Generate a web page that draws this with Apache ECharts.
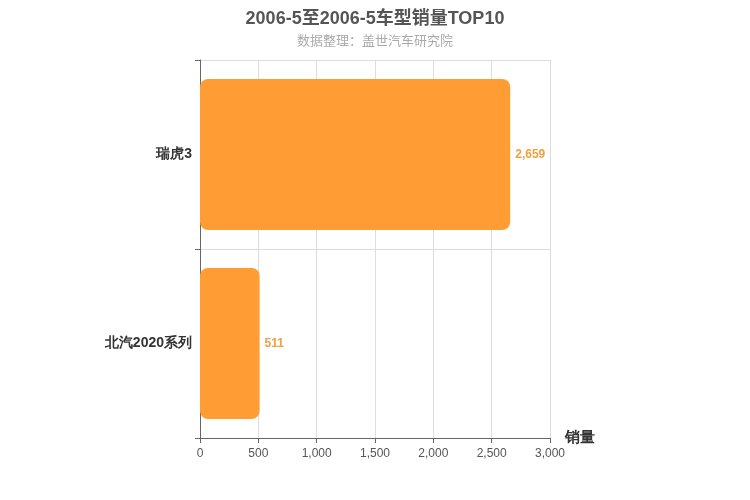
<!DOCTYPE html>
<html><head><meta charset="utf-8">
<script src="https://cdn.jsdelivr.net/npm/echarts@6/dist/echarts.min.js"></script>
<style>html,body{margin:0;padding:0;background:#fff}#c{width:750px;height:500px}</style>
</head><body><div id="c"></div>
<script>
const categories = ['北汽2020系列', '瑞虎3'];
const sales = [511, 2659];
const xTicks = [0, 500, 1000, 1500, 2000, 2500, 3000];
const titleText = '2006-5至2006-5车型销量TOP10';
const subText = '数据整理：盖世汽车研究院';

const chart = echarts.init(document.getElementById('c'));
chart.setOption({
  animation: false,
  title: {
    text: titleText, subtext: subText, left: 'center', top: 5,
    textStyle: { fontSize: 18, fontWeight: 'bold', color: '#555', fontFamily: 'Arial, "Noto Sans CJK SC", sans-serif' },
    subtextStyle: { fontSize: 13, color: '#aaa', fontFamily: '"Noto Sans CJK SC", sans-serif' },
    itemGap: 6
  },
  grid: { left: 200, right: 200, top: 60, bottom: 62 },
  xAxis: {
    type: 'value', min: xTicks[0], max: xTicks[xTicks.length - 1], interval: 500,
    name: '销量', nameLocation: 'end', nameGap: 15,
    nameTextStyle: { fontSize: 15, fontWeight: 'bold', color: '#333', verticalAlign: 'top', padding: [-8, 0, 0, 0] },
    axisLine: { show: true, lineStyle: { color: '#666' } },
    axisTick: { show: true, lineStyle: { color: '#666' } },
    axisLabel: { color: '#555', fontSize: 12, margin: 10 },
    splitLine: { show: true, lineStyle: { color: '#ddd' } }
  },
  yAxis: {
    type: 'category', data: categories,
    axisLine: { show: true, lineStyle: { color: '#666' } },
    axisTick: { show: true, lineStyle: { color: '#666' } },
    axisLabel: { color: '#333', fontSize: 14, fontWeight: 'bold', padding: [4, 0, 0, 0] },
    splitLine: { show: true, lineStyle: { color: '#ddd' } }
  },
  series: [{
    type: 'bar', data: sales, barCategoryGap: '20%',
    itemStyle: { color: '#ff9c34', borderRadius: 8 },
    label: { show: true, position: 'right', color: '#f0a040', fontWeight: 'bold', fontSize: 12,
      formatter: p => p.value.toLocaleString('en-US') }
  }]
});
</script></body></html>
